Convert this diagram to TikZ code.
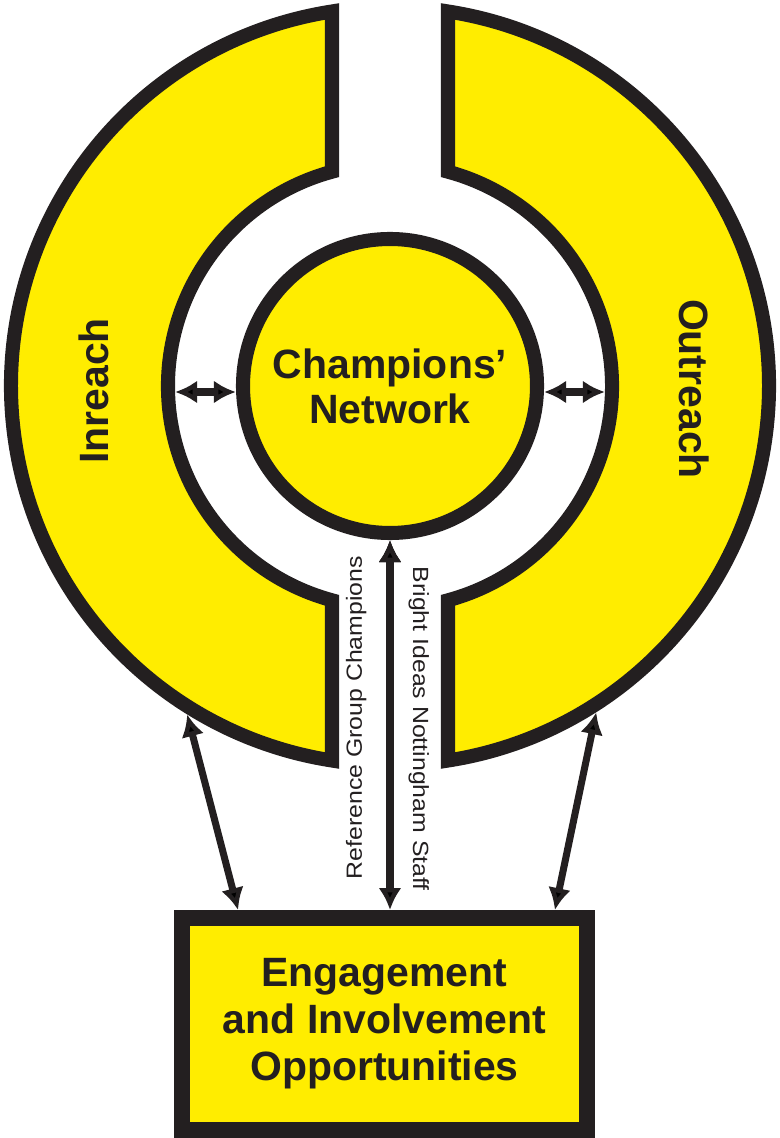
\documentclass[tikz,border=0pt]{standalone}
\usepackage{fontspec}
\setmainfont{Liberation Sans}
\newfontfamily\tagfont[FakeStretch=1.13]{Liberation Sans}
\usepackage{tikz}
\usetikzlibrary{calc,positioning,arrows.meta}
\definecolor{ringyellow}{RGB}{255,237,0}
\definecolor{inkblack}{RGB}{35,31,32}

\begin{document}
\begin{tikzpicture}[x=0.2mm,y=0.2mm,>={Latex[length=0.44cm,width=0.46cm]},
		ring/.style={draw=inkblack,fill=ringyellow,line width=8pt,line join=miter},
		big/.style={text=inkblack,font=\fontsize{23.3}{25.6}\selectfont\bfseries},
		link/.style={draw=inkblack,line width=4pt,<->},
		tag/.style={text=inkblack,font=\tagfont\fontsize{12.5}{14}\selectfont,anchor=south}]
		\useasboundingbox (0,0) rectangle (780,1138);
		\coordinate(C) at (390,752);
		\path[ring] ($(C)+(98.80:379)$) arc (98.80:261.20:379) -- ($(C)+(254.85:222)$) arc (254.85:105.15:222) -- cycle;
		\path[ring] ($(C)+(81.20:379)$) arc (81.20:-81.20:379) -- ($(C)+(-74.85:222)$) arc (-74.85:74.85:222) -- cycle;
		\node(net) at (C) [circle,draw=inkblack,fill=ringyellow,line width=8pt,minimum size=5.88cm,inner sep=0pt,big,align=center] {Champions'\\Network};
		\node(inr) at (94,747) [big,rotate=90] {Inreach};
		\node(outr) at (694,749) [big,rotate=-90] {Outreach};
		\node(opps) at (384.5,114) [draw=inkblack,fill=ringyellow,line width=9pt,minimum width=8.1cm,minimum height=4.24cm,inner sep=0pt,big,font=\fontsize{23.3}{26.7}\selectfont\bfseries,align=center] {Engagement\\and Involvement\\Opportunities};
		\coordinate(inL) at ($(C)+(181.6:215)$);
		\coordinate(inR) at ($(C)+(-1.6:215)$);
		\coordinate(outL) at ($(C)+(238.3:386)$);
		\coordinate(outR) at ($(C)+(302.3:386)$);
		\path[link]
			(inL -| net.west) edge (inL)
			(inR -| net.east) edge (inR)
			(outL) edge ([xshift=1.28cm]opps.north west)
			(outR) edge ([xshift=-0.8cm]opps.north east)
			(net.south) edge node [tag,pos=0.48,rotate=90,inner sep=0.4cm] {Reference Group Champions}
				node [tag,pos=0.51,rotate=-90,inner sep=0.3cm] {Bright Ideas Nottingham Staff} (net.south |- opps.north);
	\end{tikzpicture}
\end{document}
